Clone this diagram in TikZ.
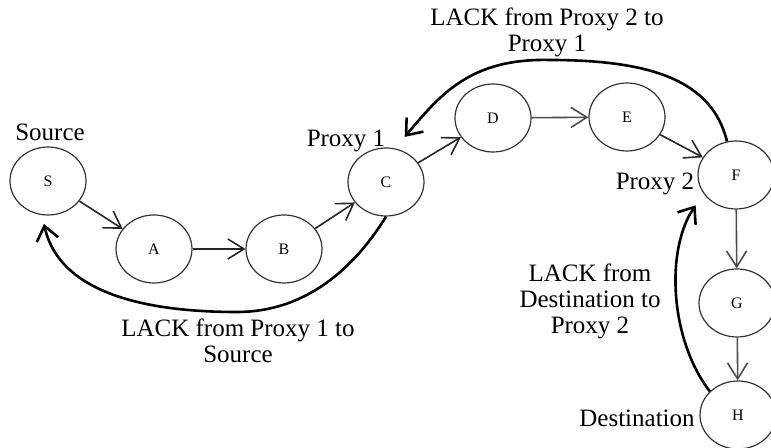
\documentclass[tikz,border=0pt]{standalone}
\usepackage{fontspec}
\setmainfont{Liberation Serif}
\usetikzlibrary{arrows.meta,shapes.geometric}
\begin{document}
\begin{tikzpicture}[x=0.5pt,y=-0.5pt,
  hop/.style={ellipse,draw=black!80,line width=0.6pt,minimum width=38pt,
    minimum height=34pt,inner sep=0pt,font=\fontsize{8}{8}\selectfont},
  tag/.style={font=\fontsize{12.5}{13}\selectfont,align=center,inner sep=0pt},
  fwd/.style={draw=black!85,line width=0.8pt,
    -{Straight Barb[length=8pt,width=10pt,line width=0.8pt]}},
  grayfwd/.style={fwd,draw=black!70},
  lack/.style={draw=black,line width=1.3pt,
    -{Straight Barb[length=7pt,width=11pt,line width=1.3pt]}}]
\useasboundingbox (0,0) rectangle (771,448);

% hops along the path
\node[hop] (S) at (48,181) {S};
\node[hop] (A) at (154,249) {A};
\node[hop] (B) at (284,249) {B};
\node[hop] (C) at (386,182) {C};
\node[hop] (D) at (493,118) {D};
\node[hop] (E) at (627,117) {E};
\node[hop] (F) at (736,175) {F};
\node[hop] (G) at (737,303) {G};
\node[hop] (H) at (738,415) {H};

% role labels
\node[tag] (lsrc) at (50,132) {Source};
\node[tag] (lp1) at (346,141) {Proxy 1};
\node[tag] (lp2) at (655,184) {Proxy 2};
\node[tag] (ldst) at (637,418) {Destination};

% LACK captions
\node[tag] (k21) at (547,32) {LACK from Proxy 2 to\\Proxy 1};
\node[tag] (k1s) at (238,341) {LACK from Proxy 1 to\\Source};
\node[tag] (kd2) at (590,301) {LACK from\\Destination to\\Proxy 2};

% data forwarding
\draw[fwd] (S) -- (A);
\draw[fwd] (A) -- (B);
\draw[fwd] (B) -- (C);
\draw[fwd] (C) -- (D);
\draw[grayfwd] (D) -- (E);
\draw[fwd] (E) -- (F);
\draw[grayfwd] (F) -- (G);
\draw[grayfwd] (G) -- (H);

% local acknowledgements
\draw[lack,shorten >=4.5pt] (C.south) .. controls (350,275) and (300,312) .. (237,312)
  .. controls (150,312) and (60,295) .. (S.-100);
\draw[lack,shorten >=7.5pt] (F.105) .. controls (712,80) and (650,60) .. (550,60)
  .. controls (470,58) and (440,95) .. (C.75);
\draw[lack,shorten >=7pt] (H.140) .. controls (670,340) and (665,250) .. (F.210);
\end{tikzpicture}
\end{document}
